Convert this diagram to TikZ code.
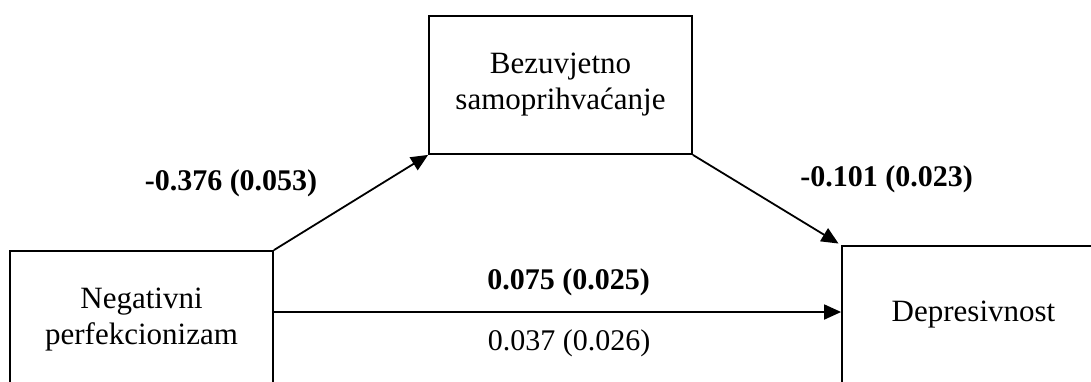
\documentclass[tikz,border=0pt]{standalone}
\usepackage{fontspec}
\setmainfont{Liberation Serif}
\usetikzlibrary{arrows.meta}
\tikzset{
  varbox/.style={draw, line width=1.8pt, minimum width=263pt, minimum height=138pt,
    align=center, inner sep=0pt, font=\fontsize{31}{36}\selectfont},
  path/.style={line width=1.8pt, -{Triangle[length=17pt,width=15pt]}},
  coef/.style={anchor=base, inner sep=0pt, font=\fontsize{30}{34}\selectfont\bfseries},
  coefplain/.style={anchor=base, inner sep=0pt, font=\fontsize{30}{34}\selectfont}
}
\begin{document}
\begin{tikzpicture}[x=1pt, y=-1pt]
  \clip (0,0) rectangle (1091,381);
  \fill[white] (0,0) rectangle (1091,381);

  % variables
  \node[varbox] (np)  at (141.5,320) {Negativni\\perfekcionizam};
  \node[varbox] (sam) at (560.5,85)  {Bezuvjetno\\samoprihvaćanje};
  \node[varbox] (dep) at (973.5,315) {Depresivnost};

  % paths
  \draw[path] (np.north east) -- (sam.south west);
  \draw[path, shorten >=3pt] (sam.south east) -- (dep.north west);
  \draw[path] ([yshift=8pt]np.east) -- ([yshift=8pt]np.east -| dep.west);

  % coefficients
  \node[coef] (a)  at (231,190)   {-0.376 (0.053)};
  \node[coef] (b)  at (886.7,186.7) {-0.101 (0.023)};
  \node[coef] (c)  at (568.5,289.3) {0.075 (0.025)};
  \node[coefplain] (cp) at (569,350) {0.037 (0.026)};
\end{tikzpicture}
\end{document}
